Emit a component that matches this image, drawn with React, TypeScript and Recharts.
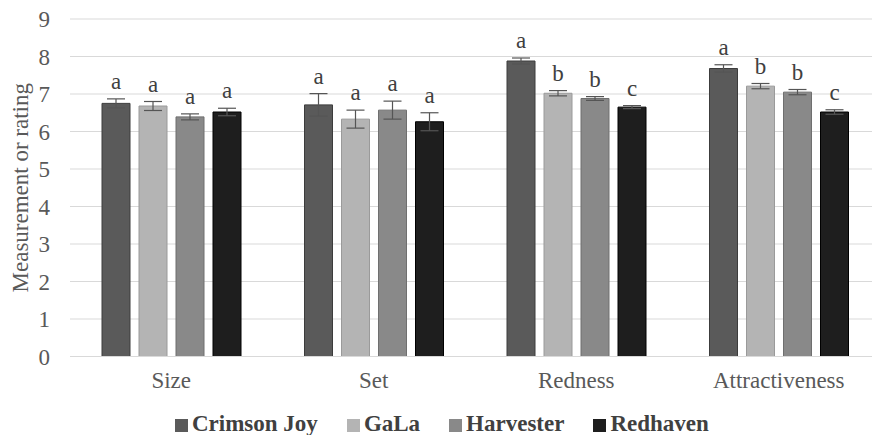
import React from "react";
import {
  BarChart,
  Bar,
  XAxis,
  YAxis,
  CartesianGrid,
  Legend,
  ErrorBar,
  LabelList,
} from "recharts";

const categories = ["Size", "Set", "Redness", "Attractiveness"];
const crimsonJoy = [6.75, 6.71, 7.88, 7.68];
const gala = [6.68, 6.33, 7.02, 7.21];
const harvester = [6.39, 6.57, 6.88, 7.05];
const redhaven = [6.52, 6.26, 6.65, 6.52];

const crimsonJoyErr = [0.12, 0.3, 0.08, 0.1];
const galaErr = [0.12, 0.24, 0.07, 0.07];
const harvesterErr = [0.08, 0.24, 0.05, 0.07];
const redhavenErr = [0.1, 0.24, 0.04, 0.06];

const crimsonJoyLetters = ["a", "a", "a", "a"];
const galaLetters = ["a", "a", "b", "b"];
const harvesterLetters = ["a", "a", "b", "b"];
const redhavenLetters = ["a", "a", "c", "c"];

const yTicks = [0, 1, 2, 3, 4, 5, 6, 7, 8, 9];

const FONT = "'Liberation Serif', 'Times New Roman', Times, serif";

const data = categories.map((name, i) => ({
  name,
  cj: crimsonJoy[i],
  cjErr: crimsonJoyErr[i],
  cjL: crimsonJoyLetters[i],
  gala: gala[i],
  galaErr: galaErr[i],
  galaL: galaLetters[i],
  harv: harvester[i],
  harvErr: harvesterErr[i],
  harvL: harvesterLetters[i],
  red: redhaven[i],
  redErr: redhavenErr[i],
  redL: redhavenLetters[i],
}));

// letter sits above the error bar; px per unit comes from the bar's own height
const letterLabel = (values: number[], errs: number[]) => (props: any) => {
  const { x, y, width, height, value, index } = props;
  const v = values[index] ?? 1;
  const e = errs[index] ?? 0;
  const errPx = (e * Number(height)) / v;
  return (
    <text
      x={Number(x) + Number(width) / 2}
      y={Number(y) - errPx - 10}
      textAnchor="middle"
      style={{ fontFamily: FONT }}
      fontSize={23}
      fill="#404040"
    >
      {value}
    </text>
  );
};

const YLabel = (props: any) => {
  const { viewBox } = props;
  const cx = 20;
  const cy = viewBox.y + viewBox.height / 2;
  return (
    <text
      x={cx}
      y={cy}
      transform={`rotate(-90, ${cx}, ${cy})`}
      textAnchor="middle"
      dominantBaseline="central"
      style={{ fontFamily: FONT }}
      fontSize={23}
      fill="#595959"
    >
      Measurement or rating
    </text>
  );
};

export default function App() {
  return (
    <div style={{ margin: -8, width: 880, height: 443, background: "#fff", fontFamily: FONT, overflow: "hidden" }}>
      <BarChart
        width={880}
        height={443}
        data={data}
        margin={{ top: 19, right: 0, bottom: 0, left: 0 }}
        barCategoryGap={32}
        barGap={9}
        style={{ fontFamily: FONT }}
      >
        <CartesianGrid vertical={false} stroke="#d9d9d9" />
        <XAxis
          dataKey="name"
          axisLine={{ stroke: "#d9d9d9" }}
          tickLine={false}
          tickSize={0}
          tickMargin={15}
          height={60.5}
          tick={{ fontFamily: FONT, fontSize: 23, fill: "#595959" }}
        />
        <YAxis
          domain={[0, 9]}
          ticks={yTicks}
          width={70}
          axisLine={false}
          tickLine={false}
          tickSize={0}
          tickMargin={20}
          tick={{ fontFamily: FONT, fontSize: 23, fill: "#595959" }}
          label={<YLabel />}
        />
        <Legend
          verticalAlign="bottom"
          align="left"
          iconType="square"
          iconSize={13}
          height={26}
          wrapperStyle={{
            top: 411,
            bottom: "auto",
            left: 175,
            width: 680,
            fontFamily: FONT,
            fontSize: 23,
            fontWeight: "bold",
            lineHeight: "26px",
          }}
          formatter={(value: string) => (
            <span style={{ color: "#404040", fontFamily: FONT, marginLeft: 0, marginRight: 19 }}>{value}</span>
          )}
        />
        <Bar dataKey="cj" name="Crimson Joy" fill="#5a5a5a" stroke="#3c3c3c" isAnimationActive={false}>
          <ErrorBar dataKey="cjErr" width={9} stroke="#555" strokeWidth={1.2} />
          <LabelList dataKey="cjL" content={letterLabel(crimsonJoy, crimsonJoyErr)} />
        </Bar>
        <Bar dataKey="gala" name="GaLa" fill="#b4b4b4" stroke="#9a9a9a" isAnimationActive={false}>
          <ErrorBar dataKey="galaErr" width={9} stroke="#555" strokeWidth={1.2} />
          <LabelList dataKey="galaL" content={letterLabel(gala, galaErr)} />
        </Bar>
        <Bar dataKey="harv" name="Harvester" fill="#898989" stroke="#6f6f6f" isAnimationActive={false}>
          <ErrorBar dataKey="harvErr" width={9} stroke="#555" strokeWidth={1.2} />
          <LabelList dataKey="harvL" content={letterLabel(harvester, harvesterErr)} />
        </Bar>
        <Bar dataKey="red" name="Redhaven" fill="#1e1e1e" stroke="#000" isAnimationActive={false}>
          <ErrorBar dataKey="redErr" width={9} stroke="#555" strokeWidth={1.2} />
          <LabelList dataKey="redL" content={letterLabel(redhaven, redhavenErr)} />
        </Bar>
      </BarChart>
    </div>
  );
}
